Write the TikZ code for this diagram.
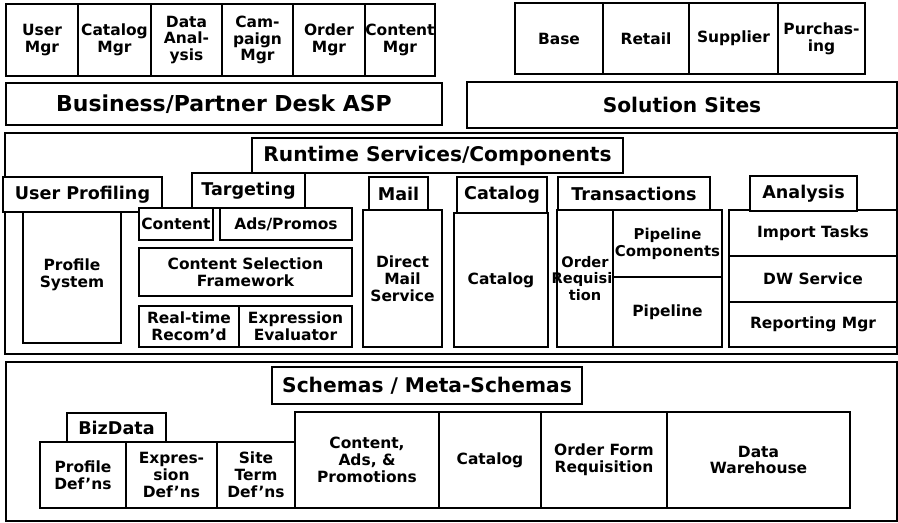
\documentclass[tikz,border=0pt]{standalone}
\usepackage{fontspec}
\setmainfont{DejaVu Sans}
\begin{document}
\begin{tikzpicture}[x=0.02cm, y=-0.02cm,
    area/.style args={#1/#2/#3/#4}{at={({(#1+#3)/2},{(#2+#4)/2})},
        minimum width={(#3-#1)*0.02cm}, minimum height={(#4-#2)*0.02cm}},
    cell/.style={draw, line width=1pt, fill=white, inner sep=0pt, align=center,
        font=\fontsize{8.8}{9.6}\selectfont\bfseries},
    tab/.style={cell, font=\fontsize{10}{12}\selectfont\bfseries},
    head/.style={cell, font=\fontsize{11.5}{14}\selectfont\bfseries}]
\useasboundingbox (0,0) rectangle (898,522);
% tools row
\foreach \a/\b/\nm/\txt in {6/78/usermgr/User\\Mgr, 78/151/catmgr/Catalog\\Mgr,
    151/222/dataana/Data\\Anal-\\ysis, 222/293/campmgr/Cam-\\paign\\Mgr,
    293/365/ordmgr/Order\\Mgr, 365/435/contmgr/Content\\Mgr}
{
    \node[cell, area=\a/4/\b/76] (\nm) {\txt};
}
\foreach \a/\b/\nm/\txt in {515/603/base/Base, 603/689/retail/Retail,
    689/778/supplier/Supplier, 778/865/purch/Purchas-\\ing}
{
    \node[cell, area=\a/3/\b/74] (\nm) {\txt};
}
\node[head, font=\fontsize{12.5}{14}\selectfont\bfseries, area=6/83/442/125] (bizdesk) {Business/Partner Desk ASP};
\node[head, area=467/82/897/128] (solsites) {Solution Sites};
% runtime layer
\node[cell, area=5/133/897/354] (runtime) {};
\node[head, area=252/138/623/173] (runtimelbl) {Runtime Services/Components};
\node[cell, area=23/207/121/343] (profsys) {Profile\\System};
\node[tab, area=3/177/162/212] (userprof) {User Profiling};
\node[cell, area=139/208/213/240] (content) {Content};
\node[cell, area=220/208/352/240] (adspromos) {Ads/Promos};
\node[cell, area=139/248/352/296] (csf) {Content Selection\\Framework};
\node[cell, area=139/306/239/347] (realtime) {Real-time\\Recom'd};
\node[cell, area=239/306/352/347] (expreval) {Expression\\Evaluator};
\node[tab, area=192/173/305/208] (targeting) {Targeting};
\node[cell, area=363/210/442/347] (dmail) {Direct\\Mail\\Service};
\node[tab, area=369/177/428/210] (mail) {Mail};
\node[cell, area=454/213/548/347] (catbox) {Catalog};
\node[tab, area=457/177/547/213] (cattab) {Catalog};
\node[cell, font=\fontsize{8.3}{9.6}\selectfont\bfseries, area=557/210/613/347] (ordreq) {Order\\\makebox[0pt]{Requisi-}\\tion};
\node[cell, font=\fontsize{8.5}{9.6}\selectfont\bfseries, area=613/210/722/277] (pipecomp) {Pipeline\\Components};
\node[cell, area=613/277/722/347] (pipeline) {Pipeline};
\node[tab, area=558/177/710/210] (trans) {Transactions};
\foreach \a/\b/\nm/\txt in {210/256/imptasks/Import Tasks, 256/302/dwserv/DW Service,
    302/347/repmgr/Reporting Mgr}
{
    \node[cell, area=729/\a/897/\b] (\nm) {\txt};
}
\node[tab, area=750/176/857/211] (analysis) {Analysis};
% schema layer
\node[cell, area=6/362/897/521] (schemas) {};
\node[head, area=272/367/582/404] (schemaslbl) {Schemas / Meta-Schemas};
\foreach \a/\b/\nm/\txt in {40/126/profdef/Profile\\Def'ns, 126/217/exprdef/Expres-\\sion\\Def'ns,
    217/295/sitedef/Site\\Term\\Def'ns}
{
    \node[cell, area=\a/442/\b/508] (\nm) {\txt};
}
\node[tab, area=67/413/166/442] (bizdata) {BizData};
\node[cell, area=295/412/439/508] (cap) {Content,\\Ads, \&\\Promotions};
\node[cell, area=439/412/541/508] (catschema) {Catalog};
\node[cell, area=541/412/667/508] (orderform) {Order Form\\Requisition};
\node[cell, area=667/412/850/508] (dwh) {Data\\Warehouse};
\end{tikzpicture}
\end{document}
